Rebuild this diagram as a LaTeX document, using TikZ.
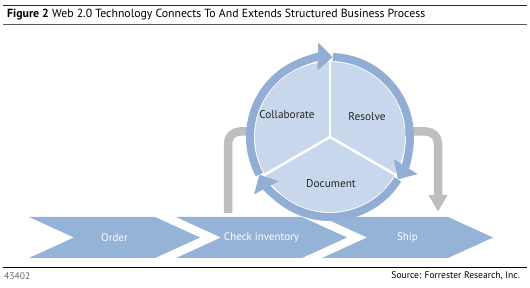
\documentclass[tikz,border=0pt]{standalone}
\usepackage{fontspec}
\setmainfont{PT Sans}
\usepackage{tikz}
\usetikzlibrary{shapes.symbols,arrows.meta,positioning}
\definecolor{ChevBlue}{RGB}{149,179,215}
\definecolor{RingBlue}{RGB}{146,174,212}
\definecolor{DiscBlue}{RGB}{200,215,236}
\definecolor{FeedGray}{RGB}{190,190,190}
\definecolor{RuleGray}{RGB}{90,90,90}

\begin{document}
\begin{tikzpicture}[x=1pt,y=1pt,
  chev/.style={signal,signal to=east,signal from=west,signal pointer angle=49,
    fill=ChevBlue,minimum width=171pt,minimum height=41pt,inner sep=0pt,
    font=\fontsize{11}{12}\selectfont,text=white},
  disc/.style={circle,fill=DiscBlue,minimum size=150pt,inner sep=0pt},
  ring/.style={line width=8pt,color=RingBlue,-{Triangle[width=27pt,length=15pt]}},
  feed/.style={line width=8.5pt,color=FeedGray,rounded corners=12pt},
  lbl/.style={font=\fontsize{11.3}{12}\selectfont,text=black!85},
  sep/.style={white,line width=2.5pt}
]
\useasboundingbox (0,0) rectangle (530,288);
% header and footer
\draw[black!85,line width=1pt] (3,282) -- (527,282);
\draw[RuleGray,line width=1.4pt] (3,263.5) -- (527,263.5);
\draw[black,line width=1pt] (3,20) -- (527,20);
\node[anchor=west,inner sep=0pt,font=\fontsize{11.8}{13}\selectfont] (title) at (7,273)
  {\textbf{Figure 2} Web 2.0 Technology Connects To And Extends Structured Business Process};
\node[anchor=west,inner sep=0pt,font=\fontsize{9.6}{10}\selectfont,text=black!60] (code) at (4,12) {43402};
\node[anchor=east,inner sep=0pt,font=\fontsize{9.6}{10}\selectfont] (source) at (520,12) {Source: Forrester Research, Inc.};

% process chevrons
\node[chev] (order) at (114.5,50.5) {Order};
\node[chev] (check) at ([xshift=147pt]order.center) {Check inventory};
\node[chev] (ship) at ([xshift=146pt]check.center) {Ship};

% cycle
\coordinate (cycle) at (330,151);
\draw[feed] ([xshift=-33.5pt,yshift=4pt]check.north) |- ([xshift=-80pt,yshift=5.5pt]cycle);
\draw[feed,-{Triangle[width=18pt,length=17pt]}] ([xshift=75pt,yshift=5.5pt]cycle) -| ([xshift=30.5pt,yshift=5pt]ship.north);
\node[disc] (hub) at (cycle) {};
\foreach \a in {90,210,330}
  \draw[sep] (hub.center) -- ++(\a:76);
\draw[ring] ([shift={(208:80)}]hub.center) arc[start angle=208,end angle=88,radius=80];
\draw[ring] ([shift={(88:80)}]hub.center) arc[start angle=88,end angle=-32,radius=80];
\draw[ring] ([shift={(-32:80)}]hub.center) arc[start angle=-32,end angle=-152,radius=80];
\node[lbl] (collab) at (287,173) {Collaborate};
\node[lbl] (resolve) at (367,171) {Resolve};
\node[lbl] (document) at (331,104) {Document};
\end{tikzpicture}
\end{document}
